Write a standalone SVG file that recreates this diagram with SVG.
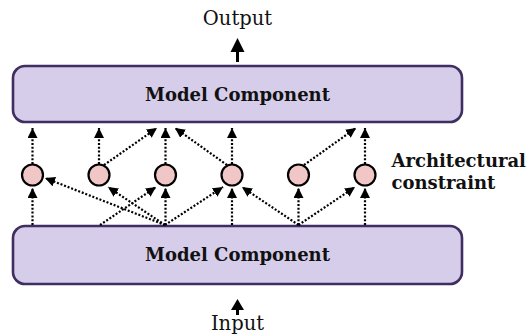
<svg xmlns="http://www.w3.org/2000/svg" width="527" height="335" viewBox="0 0 527 335">
<style>
.box{fill:#d6cdea;stroke:#3f2e60;stroke-width:2.6}
.lbl{font-family:"DejaVu Serif","Liberation Serif",serif;font-weight:bold;font-size:18px;fill:#111}
.io{font-family:"DejaVu Serif","Liberation Serif",serif;font-size:19.5px;fill:#111}
.cir{fill:#f1c6c6;stroke:#000;stroke-width:2.2}
.dot{fill:none;stroke:#000;stroke-width:2.2;stroke-dasharray:2 1.8}
.main{fill:none;stroke:#000;stroke-width:3}
.head{fill:#000;stroke:none}
</style>
<defs>
<marker id="ah" viewBox="0 0 10 10" refX="10" refY="5" markerWidth="10" markerHeight="10" markerUnits="userSpaceOnUse" orient="auto">
<path d="M0,0 L10,5 L0,10 Z" fill="#000"/>
</marker>
</defs>
<g id="output">
<text class="io" x="237.5" y="25" text-anchor="middle">Output</text>
</g>
<g id="input">
<text class="io" x="237.5" y="330" text-anchor="middle">Input</text>
</g>
<g id="top-component">
<rect class="box" x="13" y="66" width="449" height="56" rx="12"/>
<text class="lbl" x="237.5" y="100.5" text-anchor="middle">Model Component</text>
</g>
<g id="bottom-component">
<rect class="box" x="13" y="226" width="449" height="58" rx="12"/>
<text class="lbl" x="237.5" y="260.5" text-anchor="middle">Model Component</text>
</g>
<g id="constraint-label">
<text class="lbl" x="391.5" y="166.5">Architectural</text>
<text class="lbl" x="391.5" y="188.5">constraint</text>
</g>
<g id="connectors">
<path class="main" d="M237.5,62 V50"/>
<polygon class="head" points="237.5,38 244.5,52 230.5,52"/>
<path class="main" d="M237.5,315 V307"/>
<polygon class="head" points="237.5,299 244,310 231,310"/>
<path class="dot" d="M32.5,164 V128" marker-end="url(#ah)"/>
<path class="dot" d="M99,164 V128" marker-end="url(#ah)"/>
<path class="dot" d="M104,165 L157,128" marker-end="url(#ah)"/>
<path class="dot" d="M165.5,164 V128" marker-end="url(#ah)"/>
<path class="dot" d="M227,165 L175,128" marker-end="url(#ah)"/>
<path class="dot" d="M232,164 V128" marker-end="url(#ah)"/>
<path class="dot" d="M304,165 L356,128" marker-end="url(#ah)"/>
<path class="dot" d="M365,164 V128" marker-end="url(#ah)"/>
<path class="dot" d="M32.5,225 V188" marker-end="url(#ah)"/>
<path class="dot" d="M165,225 L45,178" marker-end="url(#ah)"/>
<path class="dot" d="M165,225 L108,187" marker-end="url(#ah)"/>
<path class="dot" d="M100,225 L156,187" marker-end="url(#ah)"/>
<path class="dot" d="M165.5,225 V188" marker-end="url(#ah)"/>
<path class="dot" d="M165,225 L223,187" marker-end="url(#ah)"/>
<path class="dot" d="M232,225 V188" marker-end="url(#ah)"/>
<path class="dot" d="M298.5,225 L242,187" marker-end="url(#ah)"/>
<path class="dot" d="M298.5,225 V188" marker-end="url(#ah)"/>
<path class="dot" d="M298.5,225 L355,187" marker-end="url(#ah)"/>
<path class="dot" d="M365,225 V188" marker-end="url(#ah)"/>
</g>
<g id="c1"><circle class="cir" cx="32.5" cy="175" r="10.5"/></g>
<g id="c2"><circle class="cir" cx="99" cy="175" r="10.5"/></g>
<g id="c3"><circle class="cir" cx="165.5" cy="175" r="10.5"/></g>
<g id="c4"><circle class="cir" cx="232" cy="175" r="10.5"/></g>
<g id="c5"><circle class="cir" cx="298.5" cy="175" r="10.5"/></g>
<g id="c6"><circle class="cir" cx="365" cy="175" r="10.5"/></g>
</svg>
